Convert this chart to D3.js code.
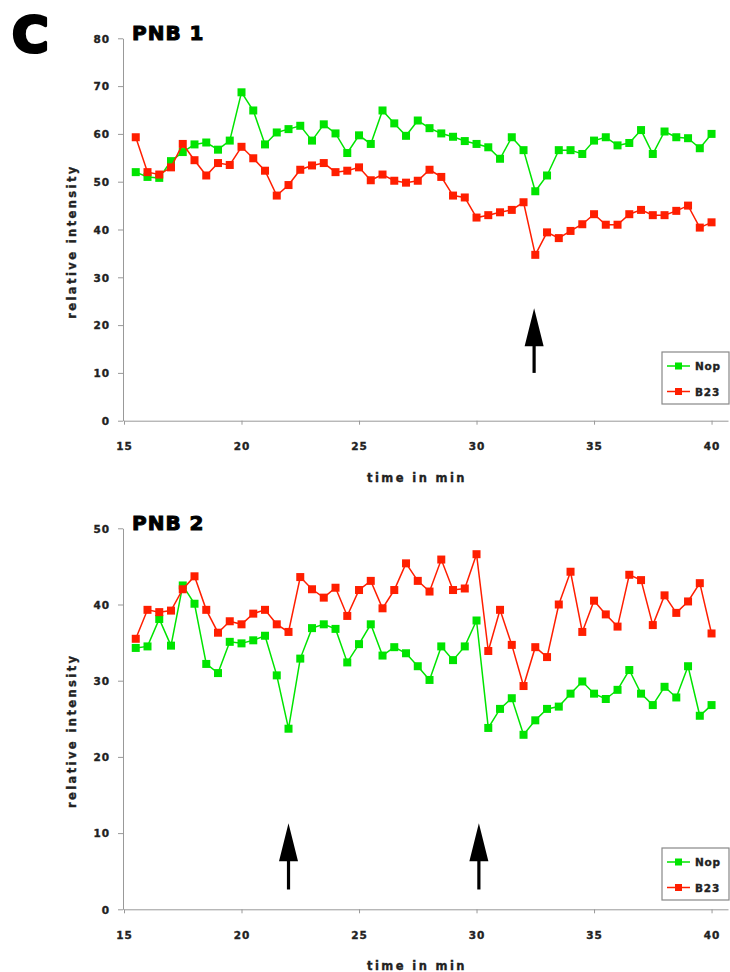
<!DOCTYPE html>
<html>
<head>
<meta charset="utf-8">
<script src="https://cdn.jsdelivr.net/npm/d3@7"></script>
<style>
  body { margin: 0; background: #fff; }
  svg { display: block; }
  .tick text { font-family: "DejaVu Sans", sans-serif; font-weight: bold; font-size: 10.5px; letter-spacing: 1px; fill: #222; stroke: #222; stroke-width: 0.35px; }
  .axis path, .axis line { stroke: #999; }
  .lab { font-family: "DejaVu Sans", sans-serif; font-weight: bold; font-size: 11.5px; letter-spacing: 2.4px; fill: #222; stroke: #222; stroke-width: 0.35px; }
</style>
</head>
<body>
<svg id="chart"></svg>
<script>
// time points (min)
const times = [15.5, 16, 16.5, 17, 17.5, 18, 18.5, 19, 19.5, 20,
  20.5, 21, 21.5, 22, 22.5, 23, 23.5, 24, 24.5, 25,
  25.5, 26, 26.5, 27, 27.5, 28, 28.5, 29, 29.5, 30,
  30.5, 31, 31.5, 32, 32.5, 33, 33.5, 34, 34.5, 35,
  35.5, 36, 36.5, 37, 37.5, 38, 38.5, 39, 39.5, 40];

const seriesNames = ["Nop", "B23"];
const seriesColors = ["#00e400", "#ff1e00"];

// PNB 1
const pnb1Nop = [52.0, 51.0, 50.8, 54.3, 56.2, 57.8, 58.2, 56.7, 58.6, 68.7,
  64.9, 57.8, 60.3, 61.0, 61.7, 58.6, 62.0, 60.1, 56.0, 59.7,
  57.9, 64.9, 62.2, 59.6, 62.8, 61.2, 60.1, 59.4, 58.5, 57.9,
  57.2, 54.8, 59.3, 56.6, 48.0, 51.3, 56.6, 56.6, 55.8, 58.6,
  59.3, 57.6, 58.1, 60.8, 55.8, 60.5, 59.3, 59.1, 57.0, 60.0];
const pnb1B23 = [59.3, 52.0, 51.5, 53.0, 57.9, 54.5, 51.3, 53.9, 53.5, 57.3,
  54.9, 52.3, 47.1, 49.3, 52.5, 53.4, 53.9, 52.0, 52.3, 53.0,
  50.3, 51.5, 50.2, 49.8, 50.2, 52.5, 51.0, 47.1, 46.7, 42.5,
  43.0, 43.6, 44.1, 45.7, 34.7, 39.4, 38.2, 39.7, 41.1, 43.2,
  41.0, 41.0, 43.2, 44.1, 43.0, 43.0, 43.9, 45.0, 40.4, 41.5];

// PNB 2
const pnb2Nop = [34.3, 34.5, 38.1, 34.6, 42.5, 40.1, 32.2, 31.0, 35.1, 34.9,
  35.3, 35.9, 30.7, 23.7, 32.9, 36.9, 37.4, 36.8, 32.4, 34.8,
  37.4, 33.3, 34.4, 33.6, 31.9, 30.1, 34.5, 32.7, 34.5, 37.9,
  23.8, 26.3, 27.7, 22.9, 24.8, 26.3, 26.6, 28.3, 29.9, 28.3,
  27.6, 28.8, 31.4, 28.3, 26.8, 29.2, 27.8, 31.9, 25.4, 26.8];
const pnb2B23 = [35.5, 39.3, 39.0, 39.2, 42.0, 43.7, 39.3, 36.3, 37.8, 37.4,
  38.8, 39.3, 37.4, 36.4, 43.6, 42.0, 40.9, 42.2, 38.5, 41.9,
  43.1, 39.5, 41.9, 45.4, 43.1, 41.7, 45.9, 41.9, 42.1, 46.6,
  33.9, 39.3, 34.7, 29.3, 34.4, 33.1, 40.0, 44.3, 36.4, 40.5,
  38.7, 37.1, 43.9, 43.2, 37.3, 41.2, 38.9, 40.4, 42.8, 36.2];

const xTicks = [15, 20, 25, 30, 35, 40];
const pnb1YTicks = [0, 10, 20, 30, 40, 50, 60, 70, 80];
const pnb2YTicks = [0, 10, 20, 30, 40, 50];

// arrows: time, and tip / tail in y units
const pnb1Arrows = [32.45];
const pnb1ArrowSpan = [23.5, 10.0];
const pnb2Arrows = [22.0, 30.1];
const pnb2ArrowSpan = [11.3, 2.6];

const svg = d3.select("#chart").attr("width", 730).attr("height", 972);

// big panel letter
svg.append("text")
  .attr("x", 12).attr("y", 52)
  .style("font-family", "DejaVu Sans").style("font-weight", "bold")
  .style("font-size", "50px")
  .attr("stroke", "#000").attr("stroke-width", 3.2).attr("stroke-linejoin", "round")
  .text("C");

const x = d3.scaleLinear().domain([15, 40.7]).range([124, 728]);

function panel(opt) {
  const y = d3.scaleLinear().domain([0, opt.yMax]).range(opt.yRange);
  const g = svg.append("g");

  g.append("g").attr("class", "axis")
    .attr("transform", `translate(123,0)`)
    .call(d3.axisLeft(y).tickValues(opt.yTicks).tickSize(5).tickSizeOuter(0).tickPadding(8))
    .call(a => a.selectAll(".tick text").attr("dy", "0.36em"));

  g.append("g").attr("class", "axis")
    .attr("transform", `translate(0,${y(0)})`)
    .call(d3.axisBottom(x).tickValues(xTicks).tickSize(4).tickSizeOuter(0).tickPadding(18));

  // title
  g.append("text")
    .attr("x", 132).attr("y", opt.yRange[1] + 2)
    .style("font-family", "DejaVu Sans").style("font-weight", "bold")
    .style("font-size", "20px").style("letter-spacing", "1px")
    .attr("stroke", "#000").attr("stroke-width", 1)
    .text(opt.title);

  // axis titles
  g.append("text").attr("class", "lab")
    .attr("text-anchor", "middle")
    .attr("x", 417).attr("y", y(0) + 61)
    .text("time in min");
  g.append("text").attr("class", "lab")
    .attr("text-anchor", "middle")
    .attr("transform", `translate(76,${(y(0) + opt.yRange[1]) / 2 + 12}) rotate(-90)`)
    .text("relative intensity");

  // series
  const line = d3.line().x((d, i) => x(times[i])).y(d => y(d));
  opt.series.forEach((vals, k) => {
    g.append("path")
      .attr("d", line(vals))
      .attr("fill", "none")
      .attr("stroke", seriesColors[k])
      .attr("stroke-width", 1.5);
    g.selectAll(null).data(vals).enter().append("rect")
      .attr("x", (d, i) => x(times[i]) - 4)
      .attr("y", d => y(d) - 4)
      .attr("width", 8).attr("height", 8)
      .attr("fill", seriesColors[k]);
  });

  // arrows
  opt.arrows.forEach(t => {
    const ax = x(t), tip = y(opt.arrowSpan[0]), tail = y(opt.arrowSpan[1]);
    g.append("line")
      .attr("x1", ax).attr("x2", ax)
      .attr("y1", tip + 30).attr("y2", tail)
      .attr("stroke", "#000").attr("stroke-width", 3.2);
    g.append("path")
      .attr("d", `M${ax},${tip} L${ax + 9.5},${tip + 38} L${ax - 9.5},${tip + 38} Z`)
      .attr("fill", "#000");
  });

  // legend
  const lg = g.append("g").attr("transform", `translate(662,${opt.legendTop})`);
  lg.append("rect")
    .attr("width", 67).attr("height", 52)
    .attr("fill", "#fff").attr("stroke", "#888").attr("stroke-width", 1.2);
  seriesNames.forEach((name, k) => {
    const ry = 14 + k * 25.5;
    lg.append("line")
      .attr("x1", 5).attr("x2", 28).attr("y1", ry).attr("y2", ry)
      .attr("stroke", seriesColors[k]).attr("stroke-width", 1.5);
    lg.append("rect")
      .attr("x", 13).attr("y", ry - 3.5).attr("width", 7).attr("height", 7)
      .attr("fill", seriesColors[k]);
    lg.append("text")
      .attr("x", 33).attr("y", ry + 4)
      .style("font-family", "DejaVu Sans").style("font-weight", "bold")
      .style("font-size", "10.5px").style("letter-spacing", "0.8px")
      .attr("fill", "#222").attr("stroke", "#222").attr("stroke-width", 0.35)
      .text(name);
  });
}

panel({
  title: "PNB 1", yMax: 80, yRange: [420.7, 38.3], yTicks: pnb1YTicks,
  series: [pnb1Nop, pnb1B23], arrows: pnb1Arrows, arrowSpan: pnb1ArrowSpan,
  legendTop: 352
});
panel({
  title: "PNB 2", yMax: 50, yRange: [909.3, 528.3], yTicks: pnb2YTicks,
  series: [pnb2Nop, pnb2B23], arrows: pnb2Arrows, arrowSpan: pnb2ArrowSpan,
  legendTop: 848
});
</script>
</body>
</html>
